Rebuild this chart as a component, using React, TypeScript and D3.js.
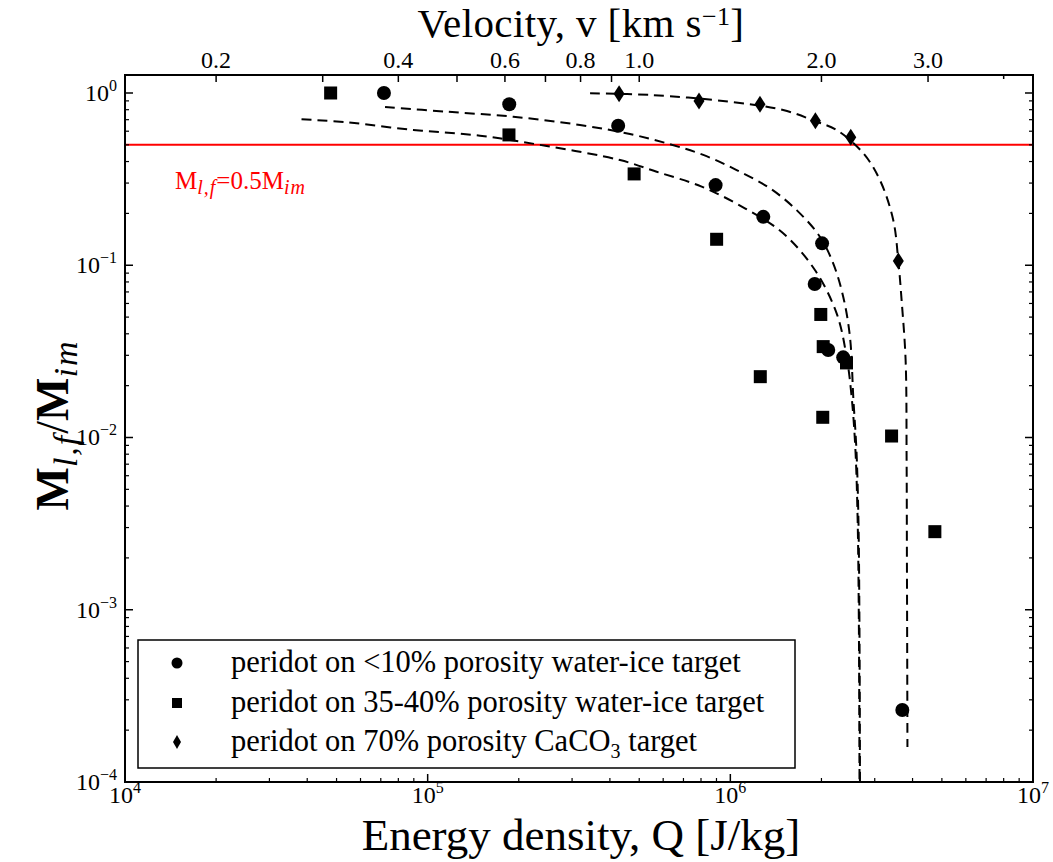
import React from "react";
import * as d3 from "d3";

// ---- data ----
const circlesQ = [7.17e4, 1.86e5, 4.26e5, 8.94e5, 1.285e6, 2.01e6, 1.9e6, 2.106e6, 2.36e6, 3.7e6];
const circlesM = [1.0, 0.86, 0.646, 0.292, 0.191, 0.134, 0.0778, 0.0322, 0.0292, 2.62e-4];

const squaresQ = [4.78e4, 1.856e5, 4.81e5, 9.01e5, 1.256e6, 1.99e6, 2.027e6, 2.42e6, 2.02e6, 3.41e6, 4.74e6];
const squaresM = [1.0, 0.571, 0.339, 0.1415, 0.02255, 0.0518, 0.0337, 0.0271, 0.0131, 0.0102, 2.84e-3];

const diamondsQ = [4.29e5, 7.88e5, 1.253e6, 1.91e6, 2.5e6, 3.59e6];
const diamondsM = [0.99, 0.899, 0.86, 0.691, 0.553, 0.106];

// fitted dashed curves
const fitAQ = [3.83e4, 5.4e4, 8.96e4, 1.489e5, 2.473e5, 4.32e5, 5.71e5, 8.04e5, 1.117e6, 1.495e6, 1.903e6, 2.245e6, 2.422e6, 2.522e6, 2.59e6, 2.634e6, 2.658e6, 2.672e6];
const fitAM = [0.704, 0.676, 0.61, 0.565, 0.492, 0.408, 0.349, 0.286, 0.2141, 0.1533, 0.0938, 0.0526, 0.0294, 0.01651, 0.00846, 0.00332, 8.72e-4, 1e-4];

const fitBQ = [7.23e4, 1.156e5, 1.918e5, 3.186e5, 4.66e5, 6.32e5, 8.14e5, 1.049e6, 1.351e6, 1.656e6, 1.977e6, 2.187e6, 2.36e6, 2.484e6, 2.551e6, 2.61e6, 2.65e6, 2.67e6, 2.681e6];
const fitBM = [0.829, 0.779, 0.728, 0.652, 0.578, 0.504, 0.437, 0.357, 0.28, 0.209, 0.1464, 0.1026, 0.0657, 0.03847, 0.01651, 0.00846, 0.00332, 8.72e-4, 1e-4];

const fitDQ = [3.44e5, 5.43e5, 9.97e5, 1.495e6, 1.928e6, 2.245e6, 2.749e6, 3.12e6, 3.453e6, 3.587e6, 3.68e6, 3.794e6, 3.823e6, 3.832e6, 3.841e6, 3.847e6];
const fitDM = [0.996, 0.974, 0.89, 0.797, 0.681, 0.61, 0.447, 0.3126, 0.1831, 0.1073, 0.0628, 0.0282, 0.0074, 0.001945, 5.11e-4, 1.596e-4];

const thresholdM = 0.5;

const xTickExps = [4, 5, 6, 7];
const yTickExps = [0, -1, -2, -3, -4];
const velocityTicks = [0.2, 0.3, 0.4, 0.5, 0.6, 0.7, 0.8, 0.9, 1.0, 2.0, 3.0, 4.0];
const velocityLabels = ["0.2", "0.4", "0.6", "0.8", "1.0", "2.0", "3.0"];

const legendLabels = [
  "peridot on <10% porosity water-ice target",
  "peridot on 35-40% porosity water-ice target",
  "peridot on 70% porosity CaCO",
];

const FONT = "'Liberation Serif', 'DejaVu Serif', serif";

const L = 125, R = 1033, T = 75, B = 782;

export default function App() {
  const x = d3.scaleLog().domain([1e4, 1e7]).range([L, R]);
  const y = d3.scaleLog().domain([1e-4, 1.272]).range([B, T]);
  const vToQ = (v: number) => 0.5 * (v * 1000) * (v * 1000);

  const line = d3
    .line<[number, number]>()
    .x((d) => x(d[0]))
    .y((d) => y(d[1]))
    .curve(d3.curveCatmullRom.alpha(0.5));

  const fits = [
    d3.zip(fitAQ, fitAM) as [number, number][],
    d3.zip(fitBQ, fitBM) as [number, number][],
    d3.zip(fitDQ, fitDM) as [number, number][],
  ];

  const xMinor: number[] = [];
  for (let e = 4; e < 7; e++) for (let k = 2; k <= 9; k++) xMinor.push(k * Math.pow(10, e));
  const yMinor: number[] = [];
  for (let e = -4; e <= 0; e++)
    for (let k = 2; k <= 9; k++) {
      const v = k * Math.pow(10, e);
      if (v <= 1.272) yMinor.push(v);
    }

  const circle = (cx: number, cy: number, r: number, key: any) => (
    <circle key={key} cx={cx} cy={cy} r={r} fill="black" />
  );
  const square = (cx: number, cy: number, s: number, key: any) => (
    <rect key={key} x={cx - s / 2} y={cy - s / 2} width={s} height={s} fill="black" />
  );
  const diamond = (cx: number, cy: number, w: number, h: number, key: any) => (
    <path
      key={key}
      d={`M${cx},${cy - h / 2}L${cx + w / 2},${cy}L${cx},${cy + h / 2}L${cx - w / 2},${cy}Z`}
      fill="black"
    />
  );

  const legendRowsY = [663, 703, 742];

  return (
    <svg
      width={1053}
      height={862}
      style={{ position: "absolute", left: 0, top: 0, background: "white" }}
      fontFamily={FONT}
    >
      <rect x={0} y={0} width={1053} height={862} fill="white" />

      {/* threshold line */}
      <line x1={L} x2={R} y1={y(thresholdM)} y2={y(thresholdM)} stroke="#ff0000" strokeWidth={2} />
      <text x={175} y={189} fill="#ff0000" fontSize={25}>
        M<tspan fontStyle="italic" fontSize={20} dy={5} letterSpacing={1}>l,f</tspan>
        <tspan dy={-5}>=0.5M</tspan>
        <tspan fontStyle="italic" fontSize={20} dy={5} letterSpacing={1}>im</tspan>
      </text>

      {/* fit curves */}
      {fits.map((f, i) => (
        <path key={i} d={line(f) || ""} fill="none" stroke="black" strokeWidth={2} strokeDasharray="10 6" />
      ))}

      {/* markers */}
      {circlesQ.map((q, i) => circle(x(q), y(circlesM[i]), 7, "c" + i))}
      {squaresQ.map((q, i) => square(x(q), y(squaresM[i]), 13, "s" + i))}
      {diamondsQ.map((q, i) => diamond(x(q), y(diamondsM[i]), 11, 17, "d" + i))}

      {/* frame */}
      <rect x={L} y={T} width={R - L} height={B - T} fill="none" stroke="black" strokeWidth={2} />

      {/* bottom x ticks */}
      {xTickExps.map((e) => {
        const px = x(Math.pow(10, e));
        return <line key={"xb" + e} x1={px} x2={px} y1={B} y2={B - 8} stroke="black" strokeWidth={1.5} />;
      })}
      {xMinor.map((v, i) => (
        <line key={"xm" + i} x1={x(v)} x2={x(v)} y1={B} y2={B - 4} stroke="black" strokeWidth={1.2} />
      ))}
      {xTickExps.map((e) => (
        <text key={"xl" + e} x={x(Math.pow(10, e))} y={803} textAnchor="middle" fontSize={24}>
          10<tspan fontSize={16} dy={-10}>{e}</tspan>
        </text>
      ))}

      {/* velocity axis on top */}
      {velocityTicks.map((v, i) => {
        const px = x(vToQ(v));
        return (
          <line key={"vt" + i} x1={px} x2={px} y1={T} y2={T + (v === 4.0 ? 4 : 7)} stroke="black" strokeWidth={1.5} />
        );
      })}
      {velocityLabels.map((s) => (
        <text key={"vl" + s} x={x(vToQ(+s))} y={68} textAnchor="middle" fontSize={24}>
          {s}
        </text>
      ))}

      {/* y ticks left & right */}
      {yTickExps.map((e) => {
        const py = y(Math.pow(10, e));
        return (
          <g key={"yt" + e}>
            <line x1={L} x2={L + 8} y1={py} y2={py} stroke="black" strokeWidth={1.5} />
            <line x1={R} x2={R - 8} y1={py} y2={py} stroke="black" strokeWidth={1.5} />
            <text x={117} y={py + 8} textAnchor="end" fontSize={24}>
              10<tspan fontSize={16} dy={-10}>{e === 0 ? "0" : "\u2212" + Math.abs(e)}</tspan>
            </text>
          </g>
        );
      })}
      {yMinor.map((v, i) => (
        <g key={"ym" + i}>
          <line x1={L} x2={L + 4} y1={y(v)} y2={y(v)} stroke="black" strokeWidth={1.2} />
          <line x1={R} x2={R - 4} y1={y(v)} y2={y(v)} stroke="black" strokeWidth={1.2} />
        </g>
      ))}

      {/* axis titles */}
      <text x={581} y={850} textAnchor="middle" fontSize={45}>
        Energy density, Q [J/kg]
      </text>
      <text x={581} y={37} textAnchor="middle" fontSize={41} letterSpacing={0.4}>
        Velocity, v [km s<tspan fontSize={26} dy={-12}>{"\u22121"}</tspan>
        <tspan dy={12}>]</tspan>
      </text>
      <text transform="translate(68,425) rotate(-90)" textAnchor="middle" fontSize={46}>
        <tspan fontWeight="bold">M</tspan>
        <tspan fontStyle="italic" fontSize={34} dy={9} letterSpacing={2}>l,f</tspan>
        <tspan dy={-9}>/</tspan>
        <tspan fontWeight="bold">M</tspan>
        <tspan fontStyle="italic" fontSize={34} dy={9} letterSpacing={2}>im</tspan>
      </text>

      {/* legend */}
      <rect x={138} y={640} width={657} height={128} fill="white" stroke="black" strokeWidth={1.5} />
      {circle(177, legendRowsY[0], 5.5, "lc")}
      {square(177, legendRowsY[1], 10, "ls")}
      {diamond(177, legendRowsY[2], 8, 14, "ld")}
      <text x={231} y={legendRowsY[0] + 9} fontSize={30.5}>{legendLabels[0]}</text>
      <text x={231} y={legendRowsY[1] + 9} fontSize={30.5}>{legendLabels[1]}</text>
      <text x={231} y={legendRowsY[2] + 9} fontSize={30.5}>
        {legendLabels[2]}
        <tspan fontSize={20} dy={7}>3</tspan>
        <tspan dy={-7}> target</tspan>
      </text>
    </svg>
  );
}
